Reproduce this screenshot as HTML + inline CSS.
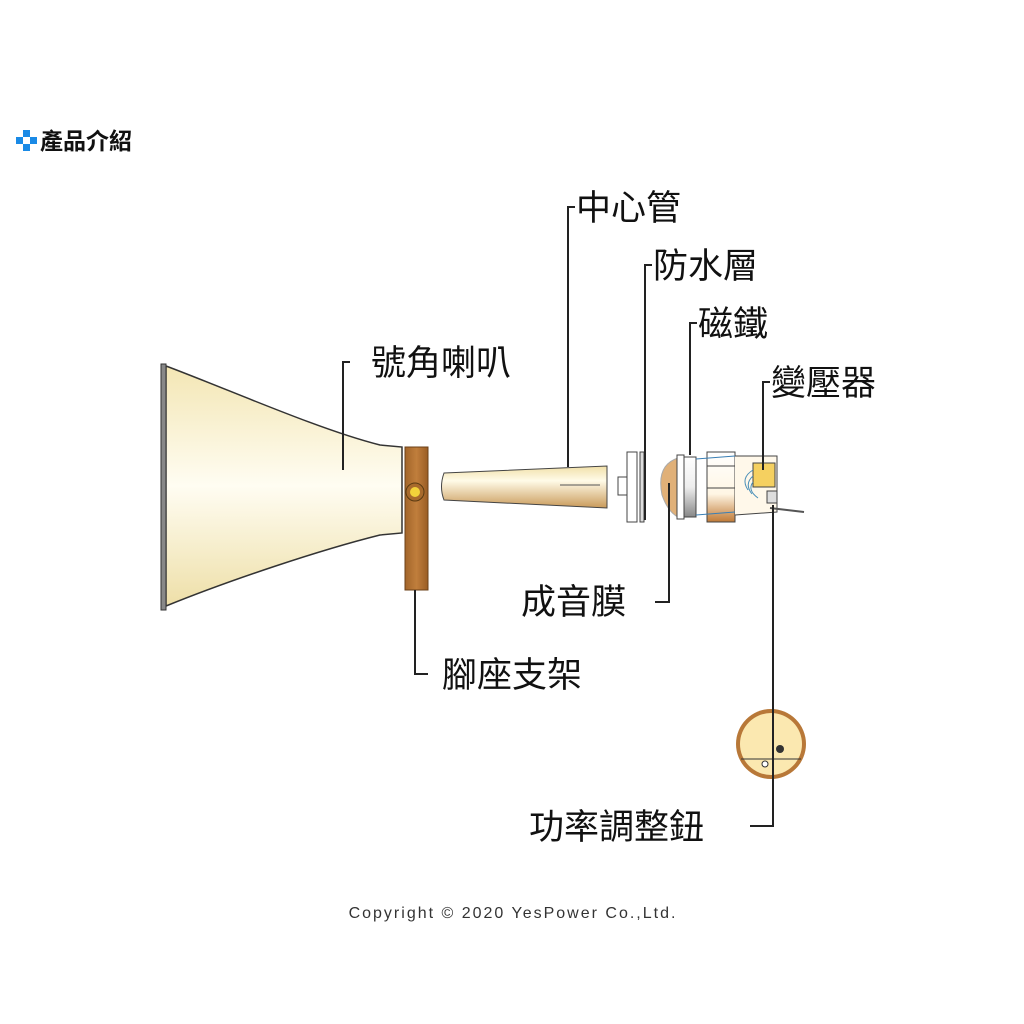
<!DOCTYPE html>
<html><head><meta charset="utf-8"><style>
html,body{margin:0;padding:0;background:#fff;}
svg{display:block}
.l{font-family:"Liberation Sans","Noto Sans CJK TC",sans-serif;font-size:35px;fill:#111;}
</style></head><body>
<svg width="1024" height="1024" viewBox="0 0 1024 1024" xmlns="http://www.w3.org/2000/svg">
<defs>
<linearGradient id="hg" x1="0" y1="0" x2="0" y2="1">
<stop offset="0" stop-color="#f3e6b4"/><stop offset="0.5" stop-color="#fffdf2"/><stop offset="1" stop-color="#eedfa8"/></linearGradient>
<linearGradient id="tg" x1="0" y1="0" x2="0" y2="1">
<stop offset="0" stop-color="#f0dfa8"/><stop offset="0.35" stop-color="#fffbe8"/><stop offset="1" stop-color="#c99a5a"/></linearGradient>
<linearGradient id="bg" x1="0" y1="0" x2="1" y2="0">
<stop offset="0" stop-color="#a2652a"/><stop offset="0.5" stop-color="#c07e3c"/><stop offset="1" stop-color="#9a5d24"/></linearGradient>
<linearGradient id="mg" x1="0" y1="0" x2="0" y2="1">
<stop offset="0" stop-color="#fff"/><stop offset="0.5" stop-color="#eee"/><stop offset="1" stop-color="#888"/></linearGradient>
<linearGradient id="cg" x1="0" y1="0" x2="0" y2="1">
<stop offset="0" stop-color="#fff"/><stop offset="0.6" stop-color="#fff6e4"/><stop offset="1" stop-color="#c07a36"/></linearGradient>
</defs>
<!-- header -->
<g fill="#1a8ae6"><rect x="16" y="137" width="7" height="7"/><rect x="23" y="130" width="7" height="7"/><rect x="30" y="137" width="7" height="7"/><rect x="23" y="144" width="7" height="7"/></g>
<text x="40" y="149" font-family="Liberation Sans,'Noto Sans CJK TC',sans-serif" font-size="23" font-weight="bold" fill="#111">產品介紹</text>
<!-- horn -->
<path d="M166 366 C230 390 320 430 380 445 L402 447 L402 533 L380 535 C320 550 230 580 166 606 Z" fill="url(#hg)" stroke="#333" stroke-width="1.5"/>
<rect x="161" y="364" width="5" height="246" fill="#888" stroke="#333" stroke-width="1"/>
<!-- bracket -->
<rect x="405" y="447" width="23" height="143" fill="url(#bg)" stroke="#6b4018" stroke-width="1"/>
<circle cx="415" cy="492" r="9" fill="#a86a2c" stroke="#5a3a12"/>
<circle cx="415" cy="492" r="5" fill="#f3d23a"/>
<!-- tube -->
<path d="M444 473 L607 466 L607 508 L444 500 Q439 487 444 473 Z" fill="url(#tg)" stroke="#444" stroke-width="1"/>
<line x1="560" y1="485" x2="600" y2="485" stroke="#555" stroke-width="1"/>
<!-- waterproof layer -->
<rect x="618" y="477" width="9" height="18" fill="#fff" stroke="#444"/>
<rect x="627" y="452" width="10" height="70" fill="#fff" stroke="#444"/>
<rect x="640" y="452" width="4" height="70" fill="#ddd" stroke="#444"/>
<!-- diaphragm dome + magnet -->
<path d="M678 458 Q656 465 662 495 Q668 512 678 517 Z" fill="#e0b078" stroke="#aaa"/>
<rect x="677" y="455" width="7" height="64" fill="#fff" stroke="#444"/>
<rect x="684" y="457" width="12" height="60" fill="url(#mg)" stroke="#444"/>
<!-- body -->
<rect x="707" y="452" width="28" height="70" fill="url(#cg)" stroke="#444"/>
<line x1="707" y1="466" x2="735" y2="466" stroke="#444"/><line x1="707" y1="488" x2="735" y2="488" stroke="#444"/>
<path d="M735 456 L777 456 L777 512 L735 515" fill="#fff8ea" stroke="#444"/>
<path d="M696 459 L735 456 M696 515 L735 512" stroke="#3a7fb5" stroke-width="1"/>
<rect x="753" y="463" width="22" height="24" fill="#f5d060" stroke="#444"/>
<path d="M753 470 Q740 478 748 490 M753 476 Q744 484 752 494 M753 482 Q747 490 758 498" stroke="#4a8fb8" fill="none"/>
<rect x="767" y="491" width="10" height="12" fill="#ddd" stroke="#444"/>
<line x1="770" y1="508" x2="804" y2="512" stroke="#555" stroke-width="2"/>
<!-- knob -->
<circle cx="771" cy="744" r="35" fill="#b87838"/>
<circle cx="771" cy="744" r="31" fill="#fbe8b0"/>
<line x1="741" y1="759" x2="801" y2="759" stroke="#333"/>
<circle cx="765" cy="764" r="3" fill="#fff" stroke="#333"/>
<circle cx="780" cy="749" r="4" fill="#333"/>
<!-- leaders -->
<g stroke="#222" stroke-width="2" fill="none">
<path d="M575 207 L568 207 L568 467"/>
<path d="M652 265 L645 265 L645 520"/>
<path d="M697 323 L690 323 L690 455"/>
<path d="M770 382 L763 382 L763 470"/>
<path d="M350 362 L343 362 L343 470"/>
<path d="M655 602 L669 602 L669 483"/>
<path d="M415 590 L415 674 L428 674"/>
<path d="M750 826 L773 826 L773 505"/>
</g>
<text class="l" x="576" y="220">中心管</text>
<text class="l" x="653" y="278">防水層</text>
<text class="l" x="698" y="336">磁鐵</text>
<text class="l" x="771" y="395">變壓器</text>
<text class="l" x="371" y="375">號角喇叭</text>
<text class="l" x="521" y="614">成音膜</text>
<text class="l" x="442" y="687">腳座支架</text>
<text class="l" x="529" y="839">功率調整鈕</text>
<text x="513" y="918" text-anchor="middle" font-family="Liberation Sans,sans-serif" font-size="16" fill="#333" letter-spacing="2">Copyright © 2020 YesPower Co.,Ltd.</text>
</svg>
</body></html>
